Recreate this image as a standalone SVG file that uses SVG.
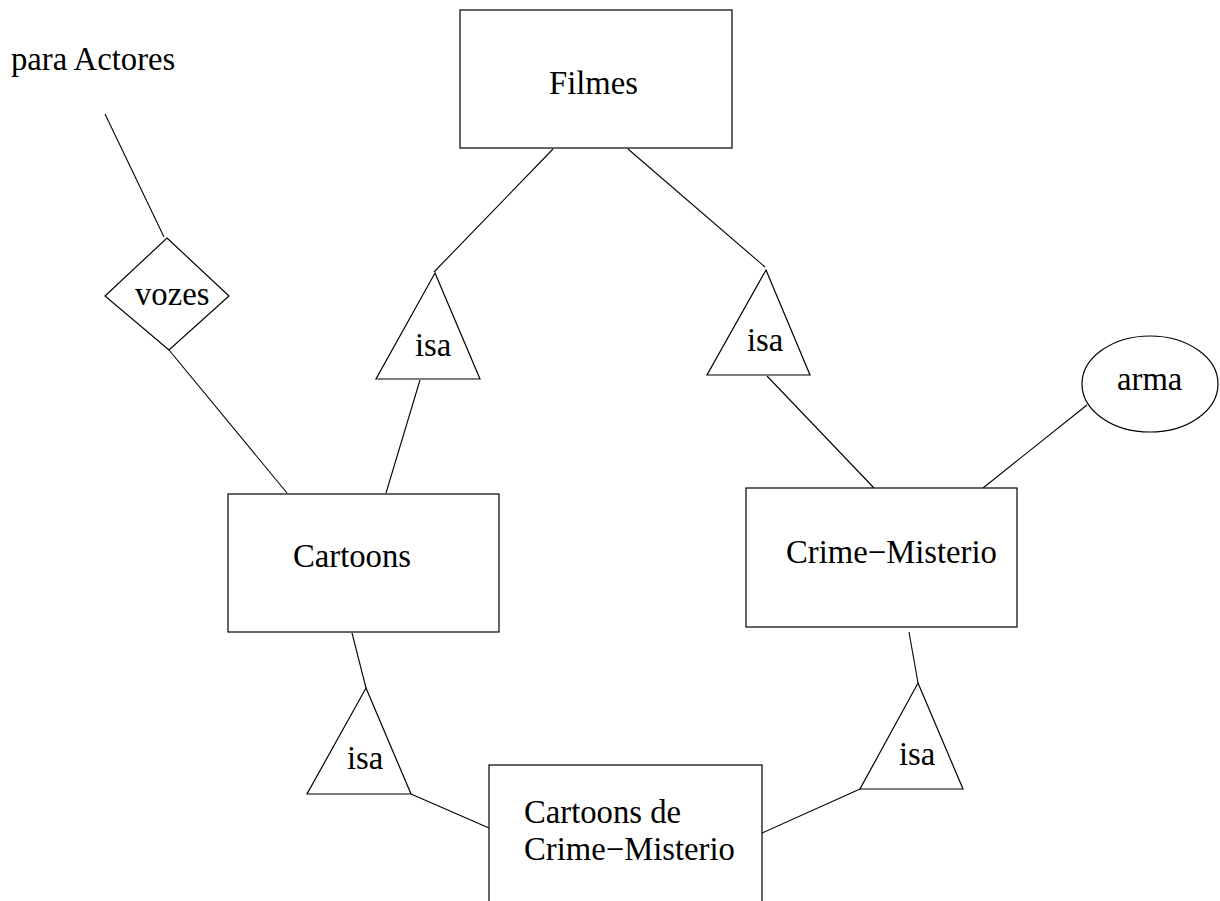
<svg xmlns="http://www.w3.org/2000/svg" width="1220" height="901" viewBox="0 0 1220 901">
<style>
.s{fill:#fff;stroke:#000;stroke-width:1.2}
.c line{stroke:#000;stroke-width:1.1}
text{font-family:"Liberation Serif","Times New Roman",serif;font-size:32.7px;fill:#000}
</style>
<rect width="1220" height="901" fill="#fff"/>
<g class="c" id="connectors">
<line x1="105" y1="114" x2="164" y2="237"/>
<line x1="169" y1="350" x2="287" y2="493"/>
<line x1="553" y1="149" x2="434" y2="272"/>
<line x1="628" y1="149" x2="765" y2="267"/>
<line x1="420" y1="380" x2="386" y2="493"/>
<line x1="767" y1="376" x2="874" y2="488"/>
<line x1="1087" y1="405" x2="983" y2="488"/>
<line x1="352" y1="633" x2="366" y2="688"/>
<line x1="411" y1="794" x2="489" y2="828"/>
<line x1="909" y1="632" x2="918" y2="683"/>
<line x1="860" y1="789" x2="762" y2="833"/>
</g>
<g id="para-actores"><text x="11" y="70">para Actores</text></g>
<g id="vozes"><polygon class="s" points="167,238 229,296 169,350 105,296"/><text x="135" y="305">vozes</text></g>
<g id="filmes"><rect class="s" x="460" y="10" width="272" height="138"/><text x="549" y="94">Filmes</text></g>
<g id="isa1"><polygon class="s" points="435,273 480,379 376,379"/><text x="415" y="356">isa</text></g>
<g id="isa2"><polygon class="s" points="766,270 810,375 707,375"/><text x="747" y="351">isa</text></g>
<g id="cartoons"><rect class="s" x="228" y="494" width="271" height="138"/><text x="293" y="567">Cartoons</text></g>
<g id="crime-misterio"><rect class="s" x="746" y="488" width="271" height="139"/><text x="786" y="563">Crime−Misterio</text></g>
<g id="arma"><ellipse class="s" cx="1150" cy="384" rx="68" ry="48"/><text x="1117" y="390">arma</text></g>
<g id="isa3"><polygon class="s" points="366,688 411,794 307,794"/><text x="347" y="769">isa</text></g>
<g id="isa4"><polygon class="s" points="918,683 963,789 860,789"/><text x="899" y="765">isa</text></g>
<g id="cartoons-crime"><rect class="s" x="489" y="765" width="273" height="150"/><text x="524" y="823">Cartoons de</text><text x="524" y="860">Crime−Misterio</text></g>
</svg>
